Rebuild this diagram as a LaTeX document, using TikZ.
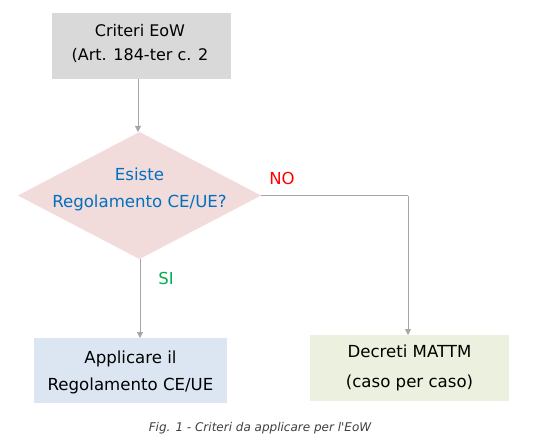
\documentclass[tikz,border=0pt]{standalone}
\usepackage{fontspec}
\setmainfont{DejaVu Sans}
\usetikzlibrary{arrows.meta,shapes.geometric}
\definecolor{boxgray}{HTML}{D9D9D9}
\definecolor{boxpink}{HTML}{F2DCDB}
\definecolor{boxblue}{HTML}{DCE6F2}
\definecolor{boxgreen}{HTML}{EBF1DE}
\definecolor{linegray}{HTML}{A6A6A6}
\definecolor{txtblue}{HTML}{0070C0}
\definecolor{txtgreen}{HTML}{00B050}
\definecolor{capgray}{HTML}{404040}
\tikzset{
  rbox/.style={draw=none, rectangle, inner sep=0pt, outer sep=0pt},
  txt/.style={align=center, inner sep=0pt},
  conn/.style={draw=linegray, line width=0.9pt, -{Triangle[length=6pt,width=6pt]}},
  plain/.style={draw=linegray, line width=0.9pt},
}
\begin{document}
\begin{tikzpicture}[x=1pt,y=-1pt]
\useasboundingbox (0,0) rectangle (535,441);
\fill[white] (0,0) rectangle (535,441);
% top box
\node[rbox, fill=boxgray, minimum width=179pt, minimum height=66pt] (top) at (141.5,46) {};
\node[txt, font=\fontsize{16}{24}\selectfont] (topt) at (140,43) {Criteri EoW\\(Art. 184-ter c. 2};
% diamond
\node[diamond, fill=boxpink, minimum width=243pt, minimum height=127pt, aspect=1.91, inner sep=0pt, outer sep=0pt] (dec) at (139.5,195.5) {};
\node[txt, text=txtblue, font=\fontsize{16.6}{27}\selectfont] (dect) at (139.5,189) {Esiste\\Regolamento CE/UE?};
% bottom boxes
\node[rbox, fill=boxblue, minimum width=193pt, minimum height=65pt] (left) at (130.5,370.5) {};
\node[txt, font=\fontsize{16.6}{27}\selectfont] (leftt) at (130.5,372) {Applicare il\\Regolamento CE/UE};
\node[rbox, fill=boxgreen, minimum width=199pt, minimum height=66pt] (right) at (409.5,368) {};
\node[txt, font=\fontsize{16.6}{30}\selectfont] (rightt) at (409.5,368) {Decreti MATTM\\(caso per caso)};
% connector anchors
\coordinate (topS) at (138,79);
\coordinate (decN) at (138,132);
\coordinate (decS) at (140,259);
\coordinate (leftN) at (140,338);
\coordinate (bend) at (408,195.5);
\coordinate (rightN) at (408,335);
% connectors
\draw[conn] (topS) -- (decN);
\draw[conn] (decS) -- (leftN);
\draw[plain] (dec.east) -- (bend);
\draw[conn] (bend) -- (rightN);
% labels
\node[txt, text=red, font=\fontsize{16.5}{16.5}\selectfont] (no) at (282,178) {NO};
\node[txt, text=txtgreen, font=\fontsize{16.5}{16.5}\selectfont] (si) at (166,278) {SI};
% caption
\node[txt, text=capgray, font=\fontsize{12}{12}\selectfont\itshape] (cap) at (260,428) {Fig. 1 - Criteri da applicare per l\textquotesingle EoW};
\end{tikzpicture}
\end{document}
